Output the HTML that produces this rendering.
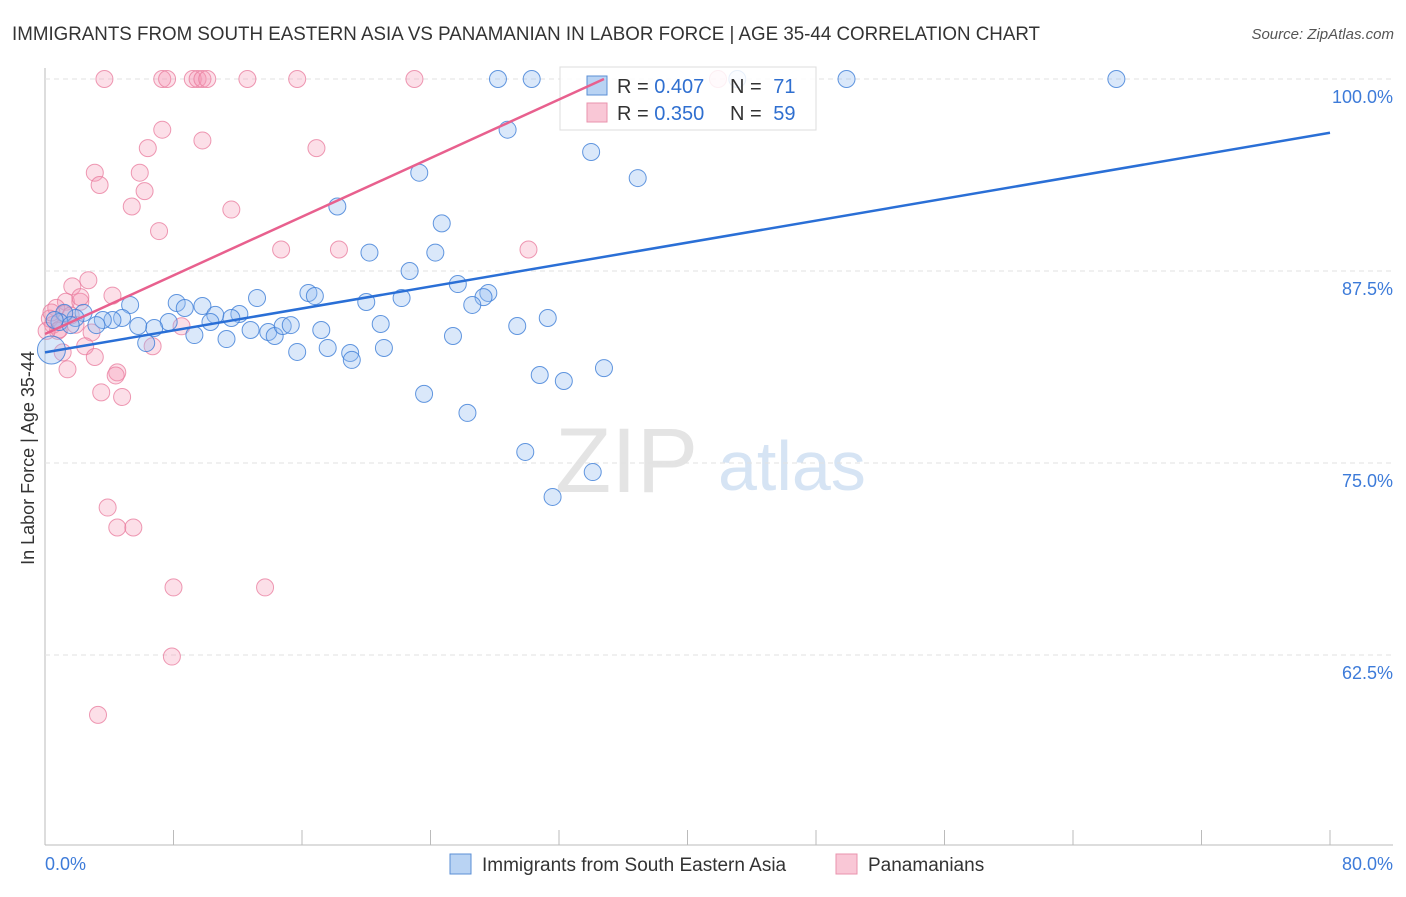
<!DOCTYPE html>
<html><head><meta charset="utf-8"><style>
body{margin:0;background:#fff;font-family:"Liberation Sans",sans-serif;}
svg text{font-family:"Liberation Sans",sans-serif;}
</style></head><body>
<svg id="c" width="1406" height="892" xmlns="http://www.w3.org/2000/svg">
<text x="12" y="40" font-size="19" fill="#333" textLength="1028" lengthAdjust="spacingAndGlyphs">IMMIGRANTS FROM SOUTH EASTERN ASIA VS PANAMANIAN IN LABOR FORCE | AGE 35-44 CORRELATION CHART</text>
<text x="1394" y="39" font-size="15" fill="#555" font-style="italic" text-anchor="end">Source: ZipAtlas.com</text>
<text x="34" y="458" font-size="18" fill="#333" text-anchor="middle" transform="rotate(-90 34 458)">In Labor Force | Age 35-44</text>
<text x="555" y="492" font-size="92" fill="#e4e4e4" font-family="Liberation Serif">ZIP</text>
<text x="718" y="490" font-size="70" fill="#d6e4f4">atlas</text>
<g id="grid"></g><g id="pts"></g>
<g>
<rect x="560" y="67" width="256" height="63" fill="rgba(255,255,255,0.85)" stroke="#ddd"/>
<rect x="587" y="76" width="20" height="19" fill="#b9d3f3" stroke="#5b8fd6"/>
<rect x="587" y="103" width="20" height="19" fill="#f9c7d6" stroke="#e993ad"/>
<text x="617" y="93" font-size="20" fill="#333">R = <tspan fill="#2f6fd0">0.407</tspan></text>
<text x="730" y="93" font-size="20" fill="#333">N = <tspan dx="6" fill="#2f6fd0">71</tspan></text>
<text x="617" y="120" font-size="20" fill="#333">R = <tspan fill="#2f6fd0">0.350</tspan></text>
<text x="730" y="120" font-size="20" fill="#333">N = <tspan dx="6" fill="#2f6fd0">59</tspan></text>
</g>
<g id="lines"></g>
<g>
<rect x="450" y="854" width="21" height="20" fill="#b9d3f3" stroke="#5b8fd6"/>
<text x="482" y="871" font-size="19" fill="#333">Immigrants from South Eastern Asia</text>
<rect x="836" y="854" width="21" height="20" fill="#f9c7d6" stroke="#e993ad"/>
<text x="868" y="871" font-size="19" fill="#333">Panamanians</text>
</g>
<text x="45" y="870" font-size="18" fill="#3d7bd9">0.0%</text>
<text x="1393" y="870" font-size="18" fill="#3d7bd9" text-anchor="end">80.0%</text>
</svg>
<script>
const yTicks=[100,87.5,75,62.5];
const yTickLabels=["100.0%","87.5%","75.0%","62.5%"];
const blueX=[28.2,30.3,49.9,66.7,43.1,28.8,34,36.9,23.3,18.2,24.7,20.2,24.3,22.7,25.7,16.4,16.8,27.6,27.3,22.2,20,26.6,13.2,8.2,9.8,5.3,8.7,31.3,29.4,20.9,17.2,25.4,12.1,11.6,10.6,10.3,7.7,6.8,5.8,4.8,4.2,3.6,2.4,3.2,1.9,1.2,0.9,12.8,13.9,14.3,14.8,15.3,11.3,9.3,6.3,15.7,17.6,19,19.1,21.1,30.8,32.3,34.8,23.6,26.3,29.9,34.1,31.6,0.4,0.6,1.6];
const blueY=[100,100,100,100,100,96.7,95.25,93.55,93.9,91.7,90.6,88.7,88.7,87.5,86.65,86.07,85.87,86.07,85.8,85.74,85.48,85.29,85.74,85.42,85.22,85.29,85.09,84.44,83.92,84.05,83.66,83.27,84.7,84.44,84.64,84.18,84.18,83.79,83.92,84.44,84.31,84.31,84.77,83.98,84.44,84.77,84.18,83.66,83.53,83.27,83.92,83.98,83.07,83.33,82.81,82.23,82.49,82.16,81.71,82.49,80.73,80.34,81.18,79.5,78.26,75.72,74.41,72.79,82.36,84.31,83.98];
const pinkX=[3.7,7.3,7.6,9.2,9.5,9.8,10.1,12.6,15.7,23,41.9,7.3,9.8,6.4,16.9,3.1,5.9,3.4,6.2,5.4,11.6,7.1,14.7,18.3,30.1,2.7,1.7,4.2,1.3,2.2,0.7,1.2,0.3,0.5,0.8,1.9,2.9,0.9,8.5,2.5,6.7,3.1,1.4,4.5,4.4,3.5,4.8,3.9,4.5,5.5,8,13.7,7.9,3.3,0.4,1.6,0.1,2.2,1.1];
const pinkY=[100,100,100,100,100,100,100,100,100,100,100,96.7,96,95.5,95.5,93.9,93.9,93.1,92.7,91.7,91.5,90.1,88.9,88.9,88.9,86.9,86.5,85.9,85.5,85.5,85.1,84.7,84.4,84,83.6,84,83.5,83.7,83.9,82.6,82.6,81.9,81.1,80.9,80.7,79.6,79.3,72.1,70.8,70.8,66.9,66.9,62.4,58.6,84.8,84.6,83.6,85.8,82.2];
const blueTrend=[[0,82.2],[80,96.5]];
const pinkTrend=[[0,83.4],[34.8,100]];
const NS="http://www.w3.org/2000/svg";
const X=v=>45+v*(1285/80), Y=v=>79+(100-v)*15.36;
function mk(t,a,p){const e=document.createElementNS(NS,t);for(const k in a)e.setAttribute(k,a[k]);p.appendChild(e);return e;}
const g=document.getElementById('grid');
const ax=mk('line',{x1:45,y1:68,x2:45,y2:845,stroke:'#bbb'},g);


const bx=mk('line',{x1:45,y1:845,x2:1393,y2:845,stroke:'#bbb'},g);


for(let i=1;i<=10;i++){const t=mk('line',{x1:X(i*8),y1:830,x2:X(i*8),y2:845,stroke:'#bbb'},g);

}
yTicks.forEach((v,i)=>{const l=mk('line',{x1:45,y1:Y(v),x2:1393,y2:Y(v),stroke:'#e2e2e2','stroke-dasharray':'5,4'},g);


const t=mk('text',{x:1393,y:Y(v)+24,'font-size':18,fill:'#3d7bd9','text-anchor':'end'},g);t.textContent=yTickLabels[i];

});
const p=document.getElementById('pts');
pinkX.forEach((x,i)=>{const c=mk('circle',{cx:X(x),cy:Y(pinkY[i]),r:8.5,fill:'rgba(244,150,180,0.3)',stroke:'rgba(232,120,155,0.75)','stroke-width':1},p);

});
blueX.forEach((x,i)=>{const c=mk('circle',{cx:X(x),cy:Y(blueY[i]),r:i==68?14:8.5,fill:'rgba(150,190,240,0.35)',stroke:'rgba(60,125,215,0.8)','stroke-width':1},p);

});
const L=document.getElementById('lines');
const bl=mk('line',{x1:X(blueTrend[0][0]),y1:Y(blueTrend[0][1]),x2:X(blueTrend[1][0]),y2:Y(blueTrend[1][1]),stroke:'#2a6fd6','stroke-width':2.5},L);


const pl=mk('line',{x1:X(pinkTrend[0][0]),y1:Y(pinkTrend[0][1]),x2:X(pinkTrend[1][0]),y2:Y(pinkTrend[1][1]),stroke:'#e8608e','stroke-width':2.5},L);


</script>
</body></html>
